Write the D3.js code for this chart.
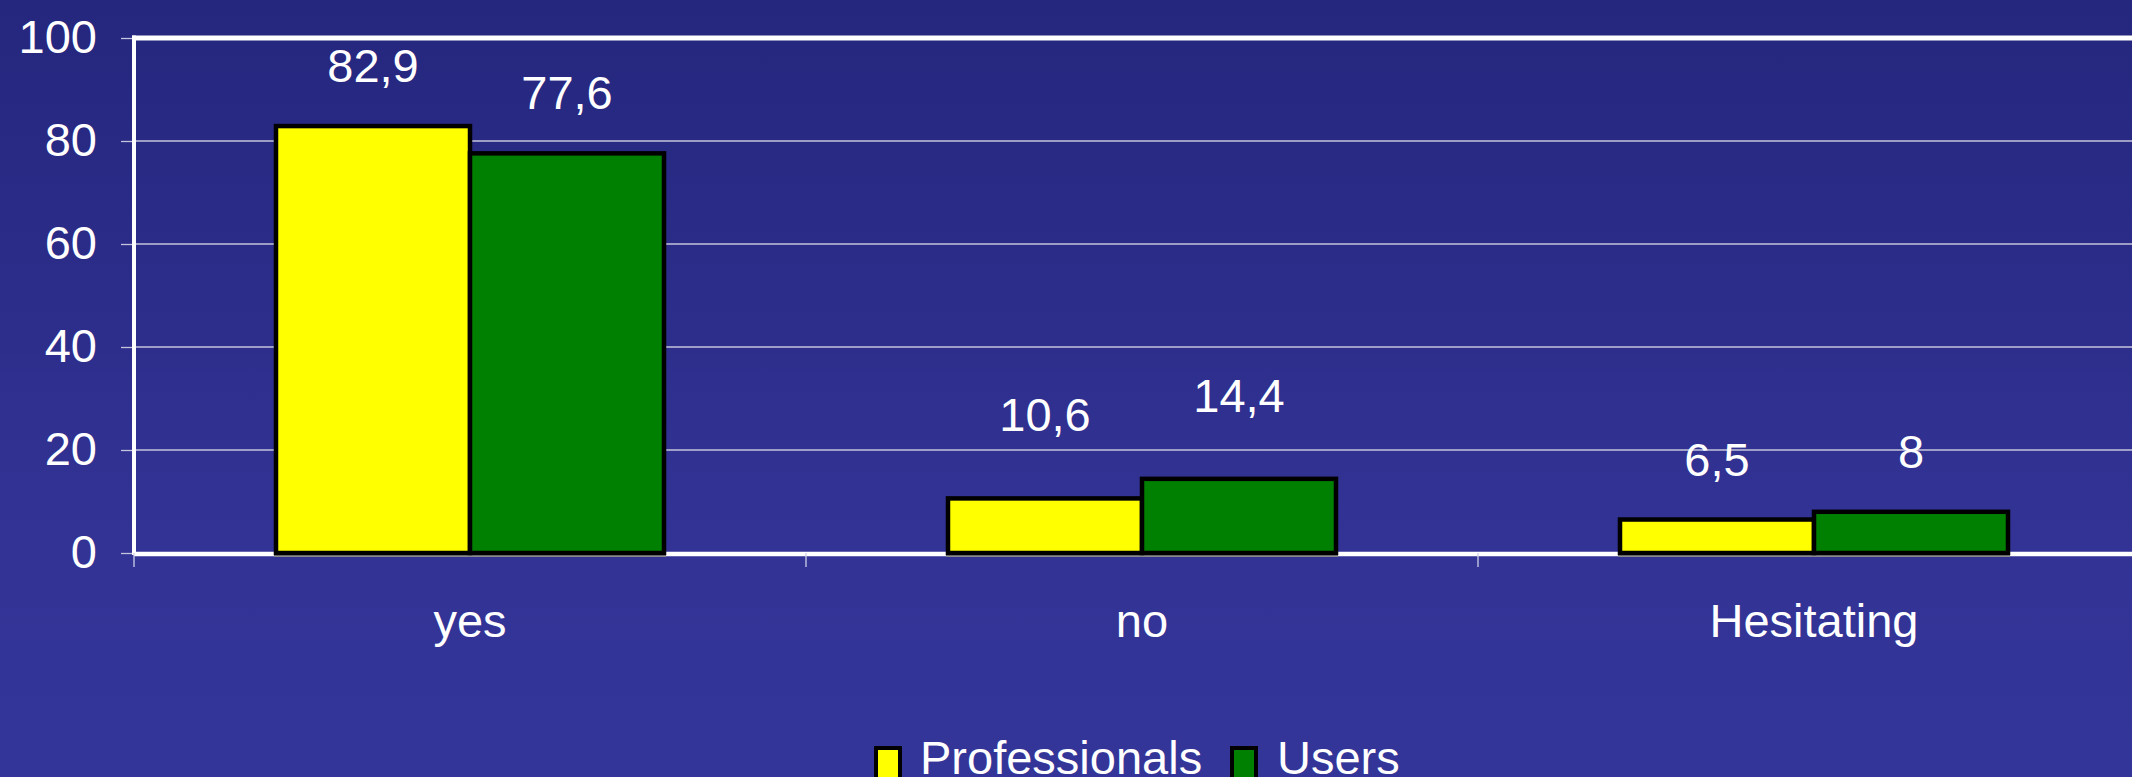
<!DOCTYPE html>
<html>
<head>
<meta charset="utf-8">
<script src="https://cdn.jsdelivr.net/npm/d3@7"></script>
<style>
  html, body { margin: 0; padding: 0; background: #2c2d8a; overflow: hidden; }
  svg { display: block; font-family: "Liberation Sans", Arial, sans-serif; }
</style>
</head>
<body>
<svg id="chart" width="2132" height="777"></svg>
<script>
// ---- data ----
const categories = ["yes", "no", "Hesitating"];
const seriesNames = ["Professionals", "Users"];
const professionals = [82.9, 10.6, 6.5];
const users = [77.6, 14.4, 8];
const yTicks = [0, 20, 40, 60, 80, 100];
const seriesColors = ["#ffff00", "#008000"];

// ---- layout ----
const W = 2132, H = 777;
const plotLeft = 134, plotTop = 38, plotBottom = 553;
const bandW = 672;
const svg = d3.select("#chart");

const defs = svg.append("defs");
const grad = defs.append("linearGradient").attr("id", "bg")
  .attr("x1", 0).attr("y1", 0).attr("x2", 0).attr("y2", 1);
grad.append("stop").attr("offset", "0%").attr("stop-color", "#25267d");
grad.append("stop").attr("offset", "70%").attr("stop-color", "#323395");
grad.append("stop").attr("offset", "100%").attr("stop-color", "#343598");
svg.append("rect").attr("width", W).attr("height", H).attr("fill", "url(#bg)");

const x0 = d3.scaleBand().domain(categories)
  .range([plotLeft, plotLeft + bandW * categories.length]).padding(0);
const x1 = d3.scaleBand().domain(seriesNames)
  .range([x0.bandwidth() * 0.2113, x0.bandwidth() * 0.7887]).padding(0);
const y = d3.scaleLinear().domain([0, 100]).range([plotBottom, plotTop]);
const plotRight = x0.range()[1];

// gridlines
svg.append("g").selectAll("line").data(yTicks.filter(t => t > 0 && t < 100)).join("line")
  .attr("x1", plotLeft).attr("x2", plotRight)
  .attr("y1", d => y(d)).attr("y2", d => y(d))
  .attr("stroke", "#c4c4dc").attr("stroke-width", 1.3);

// top border
svg.append("line").attr("x1", plotLeft - 2).attr("x2", plotRight)
  .attr("y1", y(100)).attr("y2", y(100))
  .attr("stroke", "#ffffff").attr("stroke-width", 5);

// y axis
const yAxis = d3.axisLeft(y).tickValues(yTicks).tickSize(13).tickPadding(24)
  .tickFormat(d => d);
const gy = svg.append("g").attr("transform", `translate(${plotLeft},0)`).call(yAxis);
gy.select(".domain").remove();
gy.selectAll(".tick line").attr("stroke", "#c4c4dc").attr("stroke-width", 1.3);
gy.selectAll(".tick text").attr("fill", "#ffffff").attr("font-size", 47)
  .attr("font-family", "Liberation Sans, Arial, sans-serif").attr("dy", "0.3em");
svg.append("line").attr("x1", plotLeft).attr("x2", plotLeft)
  .attr("y1", y(100) - 2.5).attr("y2", plotBottom + 2)
  .attr("stroke", "#ffffff").attr("stroke-width", 4);

// x axis
const xAxis = d3.axisBottom(x0).tickSize(0).tickPadding(0).tickFormat(d => d);
const gx = svg.append("g").attr("transform", `translate(0,${plotBottom})`).call(xAxis);
gx.select(".domain").remove();
gx.selectAll(".tick text").attr("fill", "#ffffff").attr("font-size", 47)
  .attr("font-family", "Liberation Sans, Arial, sans-serif")
  .attr("dy", null).attr("y", 84);
svg.append("line").attr("x1", plotLeft).attr("x2", plotRight)
  .attr("y1", plotBottom + 1).attr("y2", plotBottom + 1)
  .attr("stroke", "#ffffff").attr("stroke-width", 4.5);
// category boundary ticks
svg.append("g").selectAll("line").data(categories).join("line")
  .attr("x1", d => x0(d)).attr("x2", d => x0(d))
  .attr("y1", plotBottom).attr("y2", plotBottom + 14)
  .attr("stroke", "#d0d0e8").attr("stroke-width", 1.3);

// bars
const rows = categories.map((c, i) => ({ cat: c, vals: [professionals[i], users[i]] }));
const labelExtraLift = { "no": 23 };
const groups = svg.append("g").selectAll("g").data(rows).join("g")
  .attr("transform", d => `translate(${x0(d.cat)},0)`);
groups.selectAll("rect.base").data(d => d.vals.map((v, j) => ({ s: seriesNames[j], v, j })))
  .join("rect").attr("class", "base")
  .attr("x", d => x1(d.s) - 2).attr("width", x1.bandwidth() + 4)
  .attr("y", plotBottom + 1).attr("height", 3).attr("fill", "#8a8a8a");
groups.selectAll("rect.bar").data(d => d.vals.map((v, j) => ({ s: seriesNames[j], v, j })))
  .join("rect").attr("class", "bar")
  .attr("x", d => x1(d.s)).attr("width", x1.bandwidth())
  .attr("y", d => y(d.v)).attr("height", d => plotBottom - y(d.v))
  .attr("fill", d => seriesColors[d.j])
  .attr("stroke", "#000000").attr("stroke-width", 4.5);
groups.selectAll("text").data(d => d.vals.map((v, j) => ({ s: seriesNames[j], v, j, cat: d.cat })))
  .join("text")
  .attr("x", d => x1(d.s) + x1.bandwidth() / 2)
  .attr("y", d => y(d.v) - 44 - (labelExtraLift[d.cat] || 0))
  .attr("text-anchor", "middle").attr("fill", "#ffffff").attr("font-size", 47)
  .text(d => String(d.v).replace(".", ","));

// legend (bottom partly clipped by the frame, as in the original)
const legend = svg.append("g");
const legendItems = [
  { name: seriesNames[0], color: seriesColors[0], x: 874, tx: 920 },
  { name: seriesNames[1], color: seriesColors[1], x: 1230, tx: 1277 }
];
legendItems.forEach(it => {
  legend.append("rect").attr("x", it.x + 2).attr("y", 748)
    .attr("width", 24).attr("height", 32)
    .attr("fill", it.color).attr("stroke", "#000").attr("stroke-width", 4);
  legend.append("text").attr("x", it.tx).attr("y", 774)
    .attr("fill", "#ffffff").attr("font-size", 47)
    .text(it.name);
});
</script>
</body>
</html>
